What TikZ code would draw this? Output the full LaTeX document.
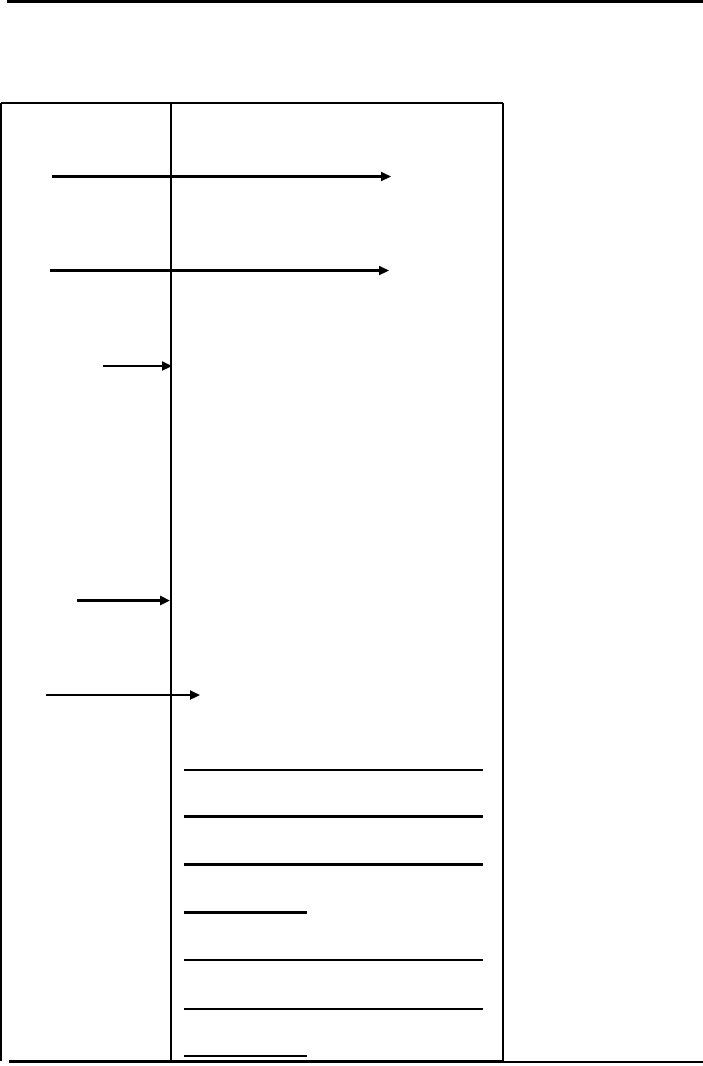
\documentclass[tikz,border=0pt]{standalone}
\usetikzlibrary{arrows.meta}
\begin{document}
\begin{tikzpicture}[x=1pt,y=-1pt,
  rule/.style={line width=2.2pt},
  frame/.style={line width=2pt},
  thinrule/.style={line width=1.1pt},
  arr/.style={line width=2.2pt,-{Triangle[length=10pt,width=9pt]}},
  blank/.style={line width=2.6pt}]
\useasboundingbox (0,0) rectangle (703,1066);
% header and footer rules
\coordinate (ht1) at (7,1.5); \coordinate (ht2) at (703,1.5);
\draw[rule] (ht1) -- (ht2);
% table frame
\coordinate (tl) at (1,103); \coordinate (tr) at (503,103);
\coordinate (bl) at (1,1061); \coordinate (br) at (503,1061);
\coordinate (dt) at (171,103); \coordinate (db) at (171,1061);
\draw[frame] (tl) -- (tr);
\draw[line width=2.4pt] (tl) -- (bl);
\draw[line width=1.5pt] (tr) -- (br);
\draw[thinrule] (dt) -- (db);
\coordinate (f1) at (9,1061.5); \coordinate (f2) at (503,1061.5); \coordinate (f3) at (703,1061.5);
\draw[line width=3pt] (f1) -- (f2);
\draw[line width=2pt] (f2) -- (f3);
% arrows
\coordinate (a1s) at (52,176.5); \coordinate (a1e) at (391,176.5);
\coordinate (a2s) at (50,270.5); \coordinate (a2e) at (389,270.5);
\coordinate (a3s) at (103,366); \coordinate (a3e) at (172,366);
\coordinate (a4s) at (77,600.5); \coordinate (a4e) at (170,600.5);
\coordinate (a5s) at (46,695); \coordinate (a5e) at (200,695);
\draw[arr] (a1s) -- (a1e);
\draw[arr] (a2s) -- (a2e);
\draw[arr] (a3s) -- (a3e);
\draw[arr,line width=2.8pt] (a4s) -- (a4e);
\draw[arr] (a5s) -- (a5e);
% blank answer lines
\foreach \i/\y/\xe in {1/770/483, 2/816.5/483, 3/864.5/483, 4/912.5/307, 5/960/483, 6/1009/483, 7/1056/307}{
  \coordinate (b\i s) at (184,\y); \coordinate (b\i e) at (\xe,\y);
  \draw[blank] (b\i s) -- (b\i e);
}
\end{tikzpicture}
\end{document}
